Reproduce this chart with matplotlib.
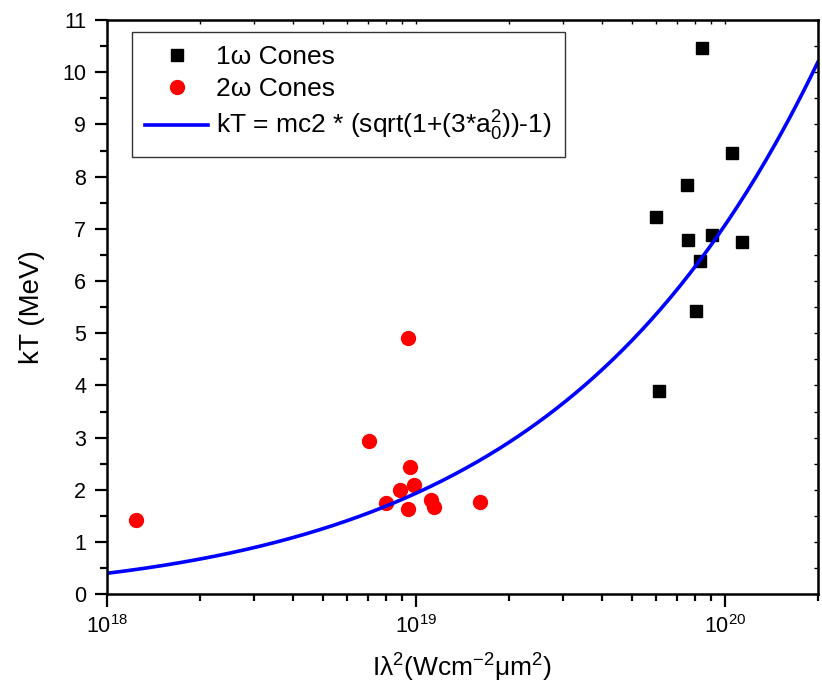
import numpy as np
import matplotlib
matplotlib.use("Agg")
import matplotlib.pyplot as plt
from matplotlib.ticker import MultipleLocator, LogLocator, NullFormatter

plt.rcParams['font.family'] = ['Liberation Sans', 'DejaVu Sans']
plt.rcParams['mathtext.fontset'] = 'custom'
plt.rcParams['mathtext.rm'] = 'Liberation Sans'
plt.rcParams['mathtext.it'] = 'Liberation Sans'
plt.rcParams['mathtext.default'] = 'regular'

# 1w cones: I*lambda^2 (W cm^-2 um^2) and kT (MeV)
i1w = [8.42e19, 1.054e20, 7.54e19, 6.00e19, 7.58e19, 9.07e19, 1.135e20, 8.28e19, 8.05e19, 6.11e19]
kt1w = [10.46, 8.45, 7.84, 7.23, 6.79, 6.88, 6.74, 6.38, 5.42, 3.89]

# 2w cones
i2w = [1.24e18, 9.44e18, 7.07e18, 9.56e18, 9.85e18, 8.89e18, 7.99e18, 9.40e18, 1.116e19, 1.147e19, 1.618e19]
kt2w = [1.43, 4.91, 2.94, 2.43, 2.09, 1.99, 1.74, 1.64, 1.80, 1.67, 1.76]

# ponderomotive scaling kT = mc2 * (sqrt(1 + 3*a0^2) - 1), a0^2 = I*lambda^2 / 1.37e18
mc2 = 0.511
i_norm = 1.37e18
xfit = np.logspace(18, np.log10(2e20), 300)
kfit = mc2 * (np.sqrt(1 + 3 * xfit / i_norm) - 1)

fig = plt.figure(figsize=(8.22, 6.91), dpi=100)
ax = fig.add_axes([0.130, 0.140, 0.865, 0.831])

ax.plot(i1w, kt1w, 's', color='black', ms=8.5, ls='none', label='1\u03c9 Cones')
ax.plot(i2w, kt2w, 'o', color='red', ms=10, ls='none', label='2\u03c9 Cones')
ax.plot(xfit, kfit, color='blue', lw=2.6, label='kT = mc2 * (sqrt(1+(3*a$_0^2$))-1)')

ax.set_xscale('log')
ax.set_xlim(1e18, 2e20)
ax.set_ylim(0, 11)
ax.yaxis.set_major_locator(MultipleLocator(1))
ax.yaxis.set_minor_locator(MultipleLocator(0.5))
ax.xaxis.set_minor_locator(LogLocator(base=10, subs=np.arange(2, 10)))
ax.xaxis.set_minor_formatter(NullFormatter())

ax.tick_params(which='major', direction='out', length=9, width=1.6, labelsize=15.5, pad=6)
ax.tick_params(which='minor', direction='out', length=5, width=1.6)
for s in ax.spines.values():
    s.set_linewidth(1.8)

# inward ticks on top and right
top = ax.secondary_xaxis('top')
top.xaxis.set_minor_locator(LogLocator(base=10, subs=np.arange(2, 10)))
top.tick_params(which='both', direction='in', length=3, width=1, labeltop=False)
top.xaxis.set_minor_formatter(NullFormatter())
right = ax.secondary_yaxis('right')
right.yaxis.set_major_locator(MultipleLocator(1))
right.yaxis.set_minor_locator(MultipleLocator(0.5))
right.tick_params(which='both', direction='in', length=3, width=1, labelright=False)

ax.set_xlabel('I\u03bb$^2$(Wcm$^{-2}$\u03bcm$^2$)', fontsize=19, labelpad=10)
ax.set_ylabel('kT (MeV)', fontsize=20, labelpad=12)

leg = ax.legend(loc='upper left', bbox_to_anchor=(0.035, 0.979), borderaxespad=0,
                fontsize=19, frameon=True, fancybox=False, edgecolor='black',
                handlelength=2.4, borderpad=0.5, labelspacing=0.3, handletextpad=0.3)
leg.get_frame().set_linewidth(1.0)

fig.savefig('out.png', dpi=100)
